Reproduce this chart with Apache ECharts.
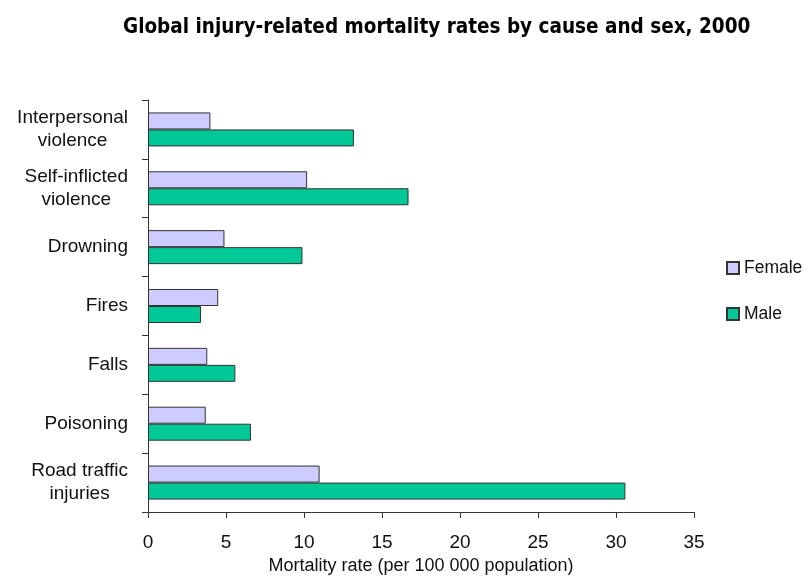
<!DOCTYPE html>
<html>
<head>
<meta charset="utf-8">
<script src="https://cdn.jsdelivr.net/npm/echarts@6/dist/echarts.min.js"></script>
<style>
  html, body { margin: 0; padding: 0; background: #fff; }
  #chart { width: 811px; height: 576px; }
</style>
</head>
<body>
<div id="chart"></div>
<script>
// Injury causes, listed top to bottom
const causes = [
  'Interpersonal\nviolence',
  'Self-inflicted\nviolence',
  'Drowning',
  'Fires',
  'Falls',
  'Poisoning',
  'Road traffic\ninjuries'
];
// Mortality rate per 100 000 population
const female = [4.0, 10.2, 4.9, 4.5, 3.8, 3.7, 11.0];
const male = [13.2, 16.7, 9.9, 3.4, 5.6, 6.6, 30.6];
const xTicks = { min: 0, max: 35, interval: 5 };

const font = '"Liberation Sans", Arial, sans-serif';
const chart = echarts.init(document.getElementById('chart'), null, { renderer: 'canvas' });

// Label block sits right-aligned against the axis; its lines are centred within it
const labelFormatter = v => v.split('\n').map(s => '{c|' + s + '}').join('\n');

chart.setOption({
  animation: false,
  backgroundColor: '#ffffff',
  title: {
    text: 'Global injury-related mortality rates by cause and sex, 2000',
    left: 118,
    top: 12,
    textStyle: {
      fontFamily: '"DejaVu Sans Condensed", "Liberation Sans Narrow", Arial, sans-serif',
      fontWeight: 'bold',
      fontSize: 20.5,
      color: '#000'
    }
  },
  legend: {
    orient: 'vertical',
    left: 721,
    top: 254,
    itemWidth: 12,
    itemHeight: 12,
    itemGap: 28,
    icon: 'rect',
    textStyle: { fontFamily: font, fontSize: 17.5, color: '#111' },
    data: ['Female', 'Male']
  },
  grid: {
    left: 148, right: 117, top: 100, bottom: 64,
    containLabel: false,
    outerBoundsMode: 'none'
  },
  xAxis: {
    type: 'value',
    min: xTicks.min,
    max: xTicks.max,
    interval: xTicks.interval,
    name: 'Mortality rate (per 100 000 population)',
    nameLocation: 'middle',
    nameGap: 44,
    nameTextStyle: { fontFamily: font, fontSize: 18, color: '#111' },
    axisLine: { show: true, lineStyle: { color: '#333', width: 1 } },
    axisTick: { show: true, length: 6, lineStyle: { color: '#333' } },
    axisLabel: { fontFamily: font, fontSize: 19, color: '#111', margin: 21 },
    splitLine: { show: false }
  },
  yAxis: {
    type: 'category',
    inverse: true,
    data: causes,
    axisLine: { show: true, lineStyle: { color: '#333', width: 1 } },
    axisTick: { show: true, length: 6, lineStyle: { color: '#333' } },
    axisLabel: {
      fontFamily: font,
      fontSize: 19,
      color: '#111',
      margin: 20,
      align: 'right',
      formatter: labelFormatter,
      rich: {
        c: {
          fontFamily: font,
          fontSize: 19,
          color: '#111',
          align: 'center',
          lineHeight: 23
        }
      }
    }
  },
  series: [
    {
      name: 'Female',
      type: 'bar',
      data: female,
      barWidth: 17,
      barGap: '0%',
      itemStyle: { color: '#ccccff', borderColor: '#333', borderWidth: 1 }
    },
    {
      name: 'Male',
      type: 'bar',
      data: male,
      barWidth: 17,
      barGap: '0%',
      itemStyle: { color: '#00c896', borderColor: '#333', borderWidth: 1 }
    }
  ]
});
</script>
</body>
</html>
